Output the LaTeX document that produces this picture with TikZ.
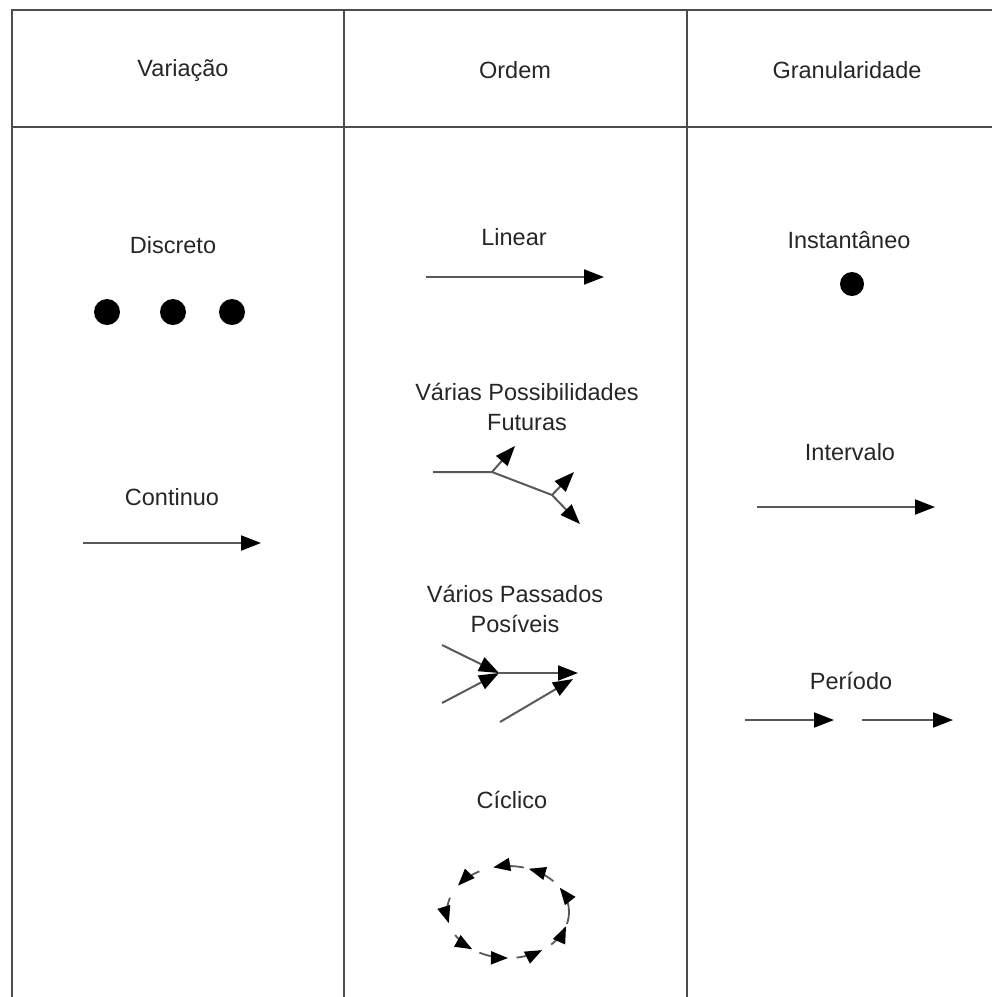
\documentclass[tikz,border=0pt]{standalone}
\usepackage{fontspec}
\setmainfont{Liberation Sans}
\usetikzlibrary{arrows.meta}
\begin{document}
\begin{tikzpicture}[x=1pt,y=-1pt,
  grid/.style={draw=black!70,line width=1.5pt},
  lbl/.style={font=\fontsize{23.5}{30}\selectfont, text=black!85, align=center, inner sep=0pt},
  arr/.style={draw=black!65,line width=2pt,-{Triangle[length=20pt,width=15pt,black]}},
  carr/.style={draw=black!65,line width=1.8pt,-{Triangle[length=17pt,width=13pt,black]}},
  plain/.style={draw=black!65,line width=2pt},
  dot/.style={circle,fill=black,minimum size=26pt,inner sep=0pt}]
\useasboundingbox (0,0) rectangle (992,997);
% table
\draw[grid] (12,997) -- (12,10) -- (992,10);
\draw[grid] (12,127) -- (992,127);
\draw[grid] (344,10) -- (344,997);
\draw[grid] (687,10) -- (687,997);
% headers
\node[lbl] (hvar) at (183,70) {Variação};
\node[lbl] (hord) at (515,70) {Ordem};
\node[lbl] (hgran) at (847,70) {Granularidade};
% column 1
\node[lbl] (disc) at (173,245) {Discreto};
\node[dot] (d1) at (107,312) {};
\node[dot] (d2) at (173,312) {};
\node[dot] (d3) at (232,312) {};
\node[lbl] (cont) at (172,497) {Continuo};
\coordinate (c1) at (83,543);
\coordinate (c2) at (261,543);
\draw[arr] (c1) -- (c2);
% column 2
\node[lbl] (lin) at (514,237) {Linear};
\coordinate (l1) at (426,277);
\coordinate (l2) at (604,277);
\draw[arr] (l1) -- (l2);
\node[lbl] (fut) at (527,407) {Várias Possibilidades\\Futuras};
\coordinate (f0) at (433,472);
\coordinate (fj) at (492,472);
\coordinate (ft1) at (515,446);
\coordinate (fk) at (552,495);
\coordinate (ft2) at (574,472);
\coordinate (ft3) at (580,524);
\draw[plain] (f0) -- (fj) -- (fk);
\draw[arr] (fj) -- (ft1);
\draw[arr] (fk) -- (ft2);
\draw[arr] (fk) -- (ft3);
\node[lbl] (pas) at (515,609) {Vários Passados\\Posíveis};
\coordinate (p1) at (442,645);
\coordinate (p2) at (442,703);
\coordinate (pj) at (499,673);
\coordinate (pt) at (578,673);
\coordinate (p3) at (500,722);
\coordinate (p4) at (573,679);
\draw[arr] (p1) -- (pj);
\draw[arr] (p2) -- (pj);
\draw[arr] (pj) -- (pt);
\draw[arr] (p3) -- (p4);
\node[lbl] (cic) at (512,800) {Cíclico};
\coordinate (cc) at (508,912);
\foreach \s/\e in {75/104, 42/70, -15/32, -45/-18, -82/-56, -118/-90, -150/-126, 162/194, 118/145}{
  \draw[carr] plot[domain=\s:\e, samples=12, smooth] ({508+61*cos(\x)}, {912-46*sin(\x)});
}
% column 3
\node[lbl] (inst) at (849,240) {Instantâneo};
\node[dot, minimum size=24pt] (idot) at (852,284) {};
\node[lbl] (int) at (850,452) {Intervalo};
\coordinate (i1) at (757,507);
\coordinate (i2) at (935,507);
\draw[arr] (i1) -- (i2);
\node[lbl] (per) at (851,681) {Período};
\coordinate (q1) at (745,720);
\coordinate (q2) at (834,720);
\coordinate (q3) at (862,720);
\coordinate (q4) at (953,720);
\draw[arr] (q1) -- (q2);
\draw[arr] (q3) -- (q4);
\end{tikzpicture}
\end{document}
